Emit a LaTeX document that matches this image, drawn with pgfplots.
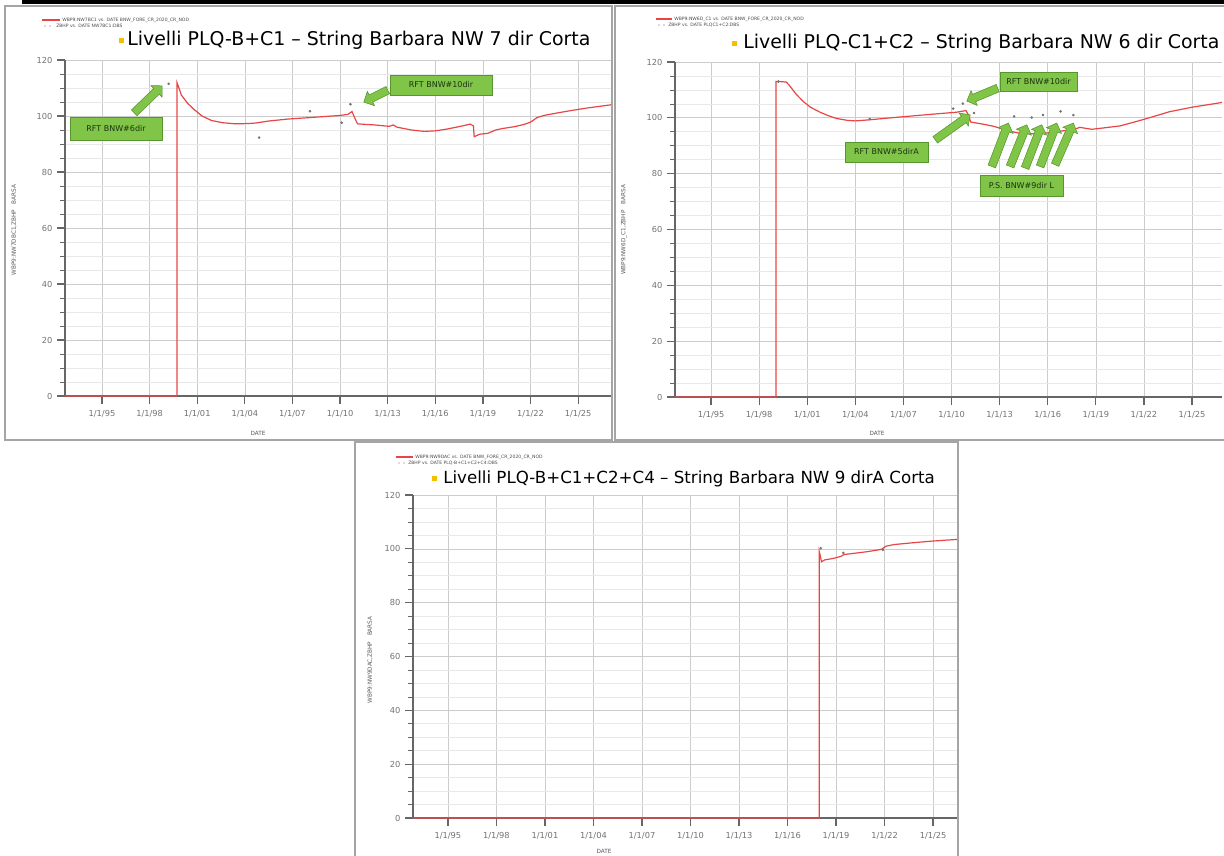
\documentclass[border=0pt]{standalone}
\usepackage{pgfplots}
\pgfplotsset{compat=1.18}
\usepackage{fontspec}
\setmainfont{DejaVu Sans}
\usetikzlibrary{shapes.arrows,calc}
\definecolor{curvered}{RGB}{232,70,70}
\definecolor{boxgreen}{RGB}{128,196,72}
\definecolor{boxedge}{RGB}{86,150,44}
\definecolor{boxtext}{RGB}{30,50,20}
\definecolor{bullet}{RGB}{245,190,0}
\definecolor{frame}{RGB}{165,165,165}
\definecolor{ticktext}{RGB}{115,115,115}

\pgfplotsset{
  wellplot/.style={
    scale only axis,
    clip=false,
    axis x line=bottom, axis y line=left,
    axis line style={-, draw=black!60, line width=0.8pt},
    ymin=0, ymax=120,
    ytick={0,20,...,120},
    minor y tick num=3,
    xtick={1995,1998,...,2025},
    xticklabels={1/1/95,1/1/98,1/1/01,1/1/04,1/1/07,1/1/10,1/1/13,1/1/16,1/1/19,1/1/22,1/1/25},
    tick align=outside,
    major tick length=6pt, minor tick length=3.5pt,
    tick style={draw=black!60, line width=0.9pt},
    minor tick style={line width=0.5pt},
    xmajorgrids, ymajorgrids, yminorgrids,
    major grid style={draw=black!20, line width=0.5pt},
    minor grid style={draw=black!9, line width=0.5pt},
    tick label style={font=\fontsize{6.2}{7}\selectfont, text=ticktext},
    xticklabel style={yshift=-1pt},
    /pgf/number format/assume math mode=true,
  },
  redcurve/.style={curvered, line width=0.9pt},
  obsdots/.style={only marks, mark=*, mark size=0.75pt, black!55},
}

% fat green arrow from #1 to #2
\newcommand{\fatarrow}[2]{%
  \path let \p1=#1, \p2=#2, \n1={atan2(\y2-\y1,\x2-\x1)}, \n2={veclen(\x2-\x1,\y2-\y1)} in
    node[single arrow, draw=boxedge, fill=boxgreen, line width=0.4pt, minimum height=\n2,
         inner sep=2.8pt, single arrow head extend=3pt, single arrow head indent=0pt,
         rotate=\n1, anchor=tail] at #1 {};}
\newcommand{\greenbox}[3]{%
  \draw[draw=boxedge, fill=boxgreen, line width=0.5pt] #1 rectangle #2;
  \node[text=boxtext, font=\fontsize{6}{7}\selectfont, inner sep=0pt] at ($#1!0.5!#2$) {#3};}

\begin{document}
\begin{tikzpicture}[x=0.75pt,y=-0.75pt]
\path[use as bounding box, fill=white] (0,0) rectangle (1224,856);
\fill[black] (22,0) rectangle (1224,4.5);
\draw[frame, line width=1.2pt] (5,6) rectangle (612,440);
\draw[frame, line width=1.2pt] (1226,6) -- (615,6) -- (615,440) -- (1226,440);
\draw[frame, line width=1.2pt] (355,860) -- (355,442) -- (958,442) -- (958,860);

\coordinate (LA) at (65,396);
\coordinate (RA) at (675,397);
\coordinate (BA) at (413,818);

% ---------------- top left ----------------
\begin{axis}[wellplot, at={(LA)}, anchor=south west,
  width=409.5pt, height=252pt, xmin=1992.67, xmax=2027.07]
\addplot[redcurve] coordinates {
 (1992.67,0) (1999.72,0) (1999.72,112) (1999.85,110) (2000,107.5) (2000.4,104.5)
 (2000.75,102.6) (2001.3,100) (2001.9,98.4) (2002.6,97.6) (2003.4,97.2) (2004.2,97.3)
 (2004.7,97.5) (2005.5,98.2) (2006.7,98.9) (2008,99.4) (2009,99.8) (2010,100.2)
 (2010.5,100.6) (2010.75,101.6) (2010.95,99) (2011.1,97.2) (2011.6,97) (2012.2,96.8)
 (2013.1,96.3) (2013.35,96.8) (2013.6,96) (2014.5,95) (2015.3,94.5) (2016,94.7)
 (2016.7,95.3) (2017.5,96.2) (2018.2,97.1) (2018.4,96.5) (2018.45,92.6) (2018.8,93.5)
 (2019.3,93.8) (2019.8,95) (2020.2,95.5) (2021,96.2) (2021.6,97) (2022,97.8)
 (2022.4,99.4) (2022.85,100.2) (2023.6,101) (2024.4,101.8) (2025.5,102.8) (2027.07,104)};
\addplot[obsdots] coordinates {
 (1999.2,111.5) (2004.9,92.3) (2008.1,101.7) (2010.1,97.6) (2010.65,104.2)};
\end{axis}

% ---------------- top right ----------------
\begin{axis}[wellplot, at={(RA)}, anchor=south west,
  width=410.25pt, height=251.25pt, xmin=1992.75, xmax=2026.87]
\addplot[redcurve] coordinates {
 (1992.75,0) (1999.05,0) (1999.05,113) (1999.3,113) (1999.7,112.8) (1999.9,111.5)
 (2000.3,108.5) (2000.76,105.8) (2001.2,103.8) (2001.8,102) (2002.3,100.8) (2002.8,99.8)
 (2003.5,99.1) (2004,98.9) (2004.9,99.3) (2006,99.9) (2007,100.4) (2008,100.9)
 (2009,101.4) (2010.3,102) (2010.9,102.6) (2011.05,101) (2011.2,98.5) (2011.6,98.1)
 (2012,97.7) (2012.6,97) (2013.2,96) (2013.8,95) (2014.3,94.4) (2015.3,94.3)
 (2016.2,94.7) (2017,95.4) (2017.6,95.7) (2018,96.6) (2018.4,96.2) (2018.75,95.9)
 (2019.5,96.4) (2020.5,97.1) (2021.6,98.8) (2022.5,100.3) (2023.6,102.2) (2025,103.8)
 (2026.87,105.5)};
\addplot[obsdots] coordinates {
 (1999.2,113) (2004.9,99.6) (2010.1,103.3) (2010.7,105.1) (2011.4,101.7)
 (2013.9,100.5) (2015,100.1) (2015.7,101) (2016.8,102.3) (2017.6,101)};
\end{axis}

% ---------------- bottom ----------------
\begin{axis}[wellplot, at={(BA)}, anchor=south west,
  width=408pt, height=242.25pt, xmin=1992.84, xmax=2026.48]
\addplot[redcurve] coordinates {
 (1992.84,0) (2017.96,0) (2017.96,99) (2018.02,97.5) (2018.1,95.2) (2018.3,95.9)
 (2018.8,96.4) (2019.3,97.2) (2019.5,97.9) (2020.2,98.4) (2021,99) (2021.5,99.5)
 (2021.8,99.8) (2022.1,101) (2022.6,101.6) (2023.3,102) (2024,102.4) (2025,102.9)
 (2026.48,103.5)};
\addplot[obsdots] coordinates {
 (2018.05,100.2) (2019.45,98.5) (2021.9,99.6)};
\end{axis}

% ---------------- legends, titles, labels ----------------
\tikzset{legtxt/.style={font=\fontsize{3.4}{4}\selectfont, text=black!70, anchor=west, inner sep=0pt},
         axlbl/.style={font=\fontsize{4.3}{5}\selectfont, text=black!65, inner sep=0pt},
         legline/.style={draw=curvered, line width=1pt}}
% top left
\draw[legline] (42,20) -- (60,20);
\fill[black!60] (45,26) circle (0.5pt) (50,26) circle (0.5pt);
\node[legtxt] at (62,20) {WBP9:NW7BC1 vs. DATE BNW\_FORE\_CR\_2020\_CR\_NOD};
\node[legtxt] at (56,26) {ZBHP vs. DATE NW7BC1:DBS};
\fill[bullet] (118.5,38) rectangle (123.5,43);
\node[anchor=west, font=\fontsize{14.2}{16}\selectfont, inner sep=0pt] at (127,40.5) {Livelli PLQ-B+C1 – String Barbara NW 7 dir Corta};
\node[axlbl] at (258,433) {DATE};
\node[axlbl, rotate=90] at (14,230) {WBP9:NW7DBC1,ZBHP\quad BARSA};
% top right
\draw[legline] (656,19) -- (672,19);
\fill[black!60] (659,25) circle (0.5pt) (664,25) circle (0.5pt);
\node[legtxt] at (674,19) {WBP9:NW6D\_C1 vs. DATE BNW\_FORE\_CR\_2020\_CR\_NOD};
\node[legtxt] at (668,25) {ZBHP vs. DATE PLQC1+C2:DBS};
\fill[bullet] (732,41) rectangle (737,46);
\node[anchor=west, font=\fontsize{14.2}{16}\selectfont, inner sep=0pt] at (743,43.5) {Livelli PLQ-C1+C2 – String Barbara NW 6 dir Corta};
\node[axlbl] at (877,433) {DATE};
\node[axlbl, rotate=90] at (624,230) {WBP9:NW6D\_C1,ZBHP\quad BARSA};
% bottom
\draw[legline] (396,457) -- (413,457);
\fill[black!60] (399,463) circle (0.5pt) (404,463) circle (0.5pt);
\node[legtxt] at (415,457) {WBP9:NW9DAC vs. DATE BNW\_FORE\_CR\_2020\_CR\_NOD};
\node[legtxt] at (408,463) {ZBHP vs. DATE PLQ-B+C1+C2+C4:DBS};
\fill[bullet] (432,476) rectangle (437,481);
\node[anchor=west, font=\fontsize{12.5}{14}\selectfont, inner sep=0pt] at (443,478.5) {Livelli PLQ-B+C1+C2+C4 – String Barbara NW 9 dirA Corta};
\node[axlbl] at (604,851) {DATE};
\node[axlbl, rotate=90] at (370,660) {WBP9:NW9DAC,ZBHP\quad BARSA};

% ---------------- annotations ----------------
\greenbox{(70,117)}{(162,140)}{RFT BNW\#6dir}
\fatarrow{(134,113)}{(162,86)}
\greenbox{(390,75)}{(492,95)}{RFT BNW\#10dir}
\fatarrow{(388,90)}{(364,102)}

\greenbox{(1000,72)}{(1077,91)}{RFT BNW\#10dir}
\fatarrow{(998,88)}{(967,101)}
\greenbox{(845,142)}{(928,162)}{RFT BNW\#5dirA}
\fatarrow{(935,140)}{(970,115)}
\greenbox{(980,175)}{(1063,196)}{P.S. BNW\#9dir L}
\fatarrow{(991.7,166.7)}{(1008.3,123.3)}
\fatarrow{(1010,166.7)}{(1026.7,125)}
\fatarrow{(1025,168.3)}{(1041.7,125)}
\fatarrow{(1040,166.7)}{(1056.7,123.3)}
\fatarrow{(1055,165)}{(1073.3,123.3)}
\end{tikzpicture}
\end{document}
